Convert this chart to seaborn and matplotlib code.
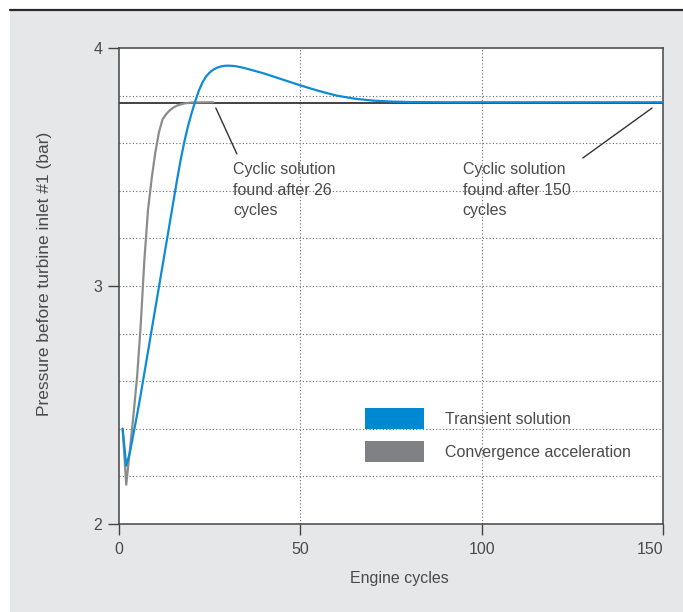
import matplotlib
matplotlib.use("Agg")
import matplotlib.pyplot as plt
from matplotlib.patches import Patch, Rectangle
from matplotlib.lines import Line2D
import seaborn as sns
import pandas as pd
import numpy as np

# ---- data ----
transient_cycles = [1, 2, 3, 4, 5, 6, 7, 8, 9, 10, 11, 12, 13, 14, 15, 16, 17, 18, 19, 20,
                    21, 22, 23, 24, 25, 26, 27, 28, 29, 30, 32, 34, 36, 40, 45, 50, 55,
                    60, 65, 70, 75, 80, 90, 150]
transient_pressure = [2.40, 2.245, 2.30, 2.38, 2.46, 2.545, 2.635, 2.725, 2.815, 2.905,
                      2.995, 3.085, 3.175, 3.265, 3.355, 3.445, 3.53, 3.605, 3.67, 3.725,
                      3.775, 3.82, 3.855, 3.88, 3.897, 3.909, 3.917, 3.922, 3.925, 3.926,
                      3.924, 3.918, 3.91, 3.893, 3.868, 3.843, 3.82, 3.80, 3.787, 3.779,
                      3.775, 3.773, 3.772, 3.772]
accel_cycles = [1, 2, 3, 4, 5, 6, 7, 8, 9, 10, 11, 12, 13, 14, 15, 16, 17, 18, 19, 20, 26]
accel_pressure = [2.40, 2.165, 2.31, 2.46, 2.62, 2.84, 3.11, 3.32, 3.45, 3.56, 3.645,
                  3.70, 3.722, 3.738, 3.75, 3.758, 3.763, 3.767, 3.769, 3.771, 3.772]
cyclic_value = 3.768
series_names = ["Transient solution", "Convergence acceleration"]
annot_texts = ["Cyclic solution\nfound after 26\ncycles",
               "Cyclic solution\nfound after 150\ncycles"]
x_ticks = [0, 50, 100, 150]
y_ticks = [2, 3, 4]
x_label = "Engine cycles"
y_label = "Pressure before turbine inlet #1 (bar)"

# ---- style ----
sns.set_style("white")
plt.rcParams["font.family"] = ["Liberation Sans", "DejaVu Sans"]
TXT = "#4a4a4a"
BLUE = "#0e8bd6"
GRAY = "#8c8c8c"
LEG_BLUE = "#0089d0"
LEG_GRAY = "#808184"
FS = 11.5

df = pd.concat([
    pd.DataFrame({"cycle": transient_cycles, "p": transient_pressure, "s": series_names[0]}),
    pd.DataFrame({"cycle": accel_cycles, "p": accel_pressure, "s": series_names[1]}),
])

fig = plt.figure(figsize=(6.83, 6.12), dpi=100, facecolor="white")
# gray panel + top rule
fig.patches.append(Rectangle((10 / 683, 0), 1 - 10 / 683, 1 - 9 / 612,
                             transform=fig.transFigure, facecolor="#e6e7e8",
                             edgecolor="none", zorder=-10))
rule = Line2D([10 / 683, 1], [1 - 9.5 / 612, 1 - 9.5 / 612],
              transform=fig.transFigure, color="#2a2a2a", lw=1.6, zorder=-5)
fig.add_artist(rule)

ax = fig.add_axes([119 / 683, (612 - 524) / 612, 544 / 683, 476 / 612])
ax.set_zorder(1)
ax.set_facecolor("white")

# grid
for yv in np.arange(2.2, 3.85, 0.2):
    ax.axhline(yv, color="#6a6a6a", lw=0.8, ls=(0, (1, 2)), zorder=1)
for xv in [50, 100]:
    ax.axvline(xv, color="#6a6a6a", lw=0.8, ls=(0, (1, 2)), zorder=1)

ax.axhline(cyclic_value, color="#222222", lw=1.2, zorder=2)

sns.lineplot(data=df, x="cycle", y="p", hue="s",
             palette={series_names[0]: BLUE, series_names[1]: GRAY},
             hue_order=[series_names[1], series_names[0]],
             linewidth=1.6, legend=False, ax=ax, zorder=3, estimator=None, sort=False)

ax.set_xlim(0, 150)
ax.set_ylim(2, 4)
ax.set_xticks(x_ticks)
ax.set_yticks(y_ticks)
ax.tick_params(axis="both", which="major", direction="out", length=8, width=1,
               color="#444444", labelsize=FS, labelcolor=TXT)
ax.tick_params(axis="x", pad=5)
ax.tick_params(axis="y", pad=4)
ax.tick_params(left=True, bottom=True)
for s in ax.spines.values():
    s.set_color("#444444")
    s.set_linewidth(1.1)
    s.set_visible(True)
xt_labels = ax.get_xticklabels()
xt_labels[-1].set_horizontalalignment("right")

ax.set_xlabel(x_label, fontsize=FS, color=TXT)
ax.set_ylabel(y_label, fontsize=12.5, color=TXT)
ax.xaxis.set_label_coords(0.515, -0.098)
ax.yaxis.set_label_coords(-0.124, 0.525)

# annotations
ax.plot([26.7, 32.5], [3.748, 3.555], color="#333333", lw=1.0, zorder=4)
ax.plot([147.0, 127.9], [3.748, 3.538], color="#333333", lw=1.0, zorder=4)
ax.text(31.4, 3.522, annot_texts[0], fontsize=FS, color=TXT, va="top", ha="left",
        linespacing=1.48, zorder=5)
ax.text(94.8, 3.522, annot_texts[1], fontsize=FS, color=TXT, va="top", ha="left",
        linespacing=1.48, zorder=5)

handles = [Patch(facecolor=LEG_BLUE, edgecolor="none"),
           Patch(facecolor=LEG_GRAY, edgecolor="none")]
ax.legend(handles, series_names, loc="upper left",
          bbox_to_anchor=((365 - 119) / 544, (524 - 408) / 476),
          frameon=False, fontsize=FS, labelcolor=TXT,
          handlelength=3.7, handleheight=1.65, handletextpad=1.3,
          labelspacing=0.75, borderpad=0, borderaxespad=0)

fig.savefig("out.png", dpi=100, facecolor=fig.get_facecolor())
